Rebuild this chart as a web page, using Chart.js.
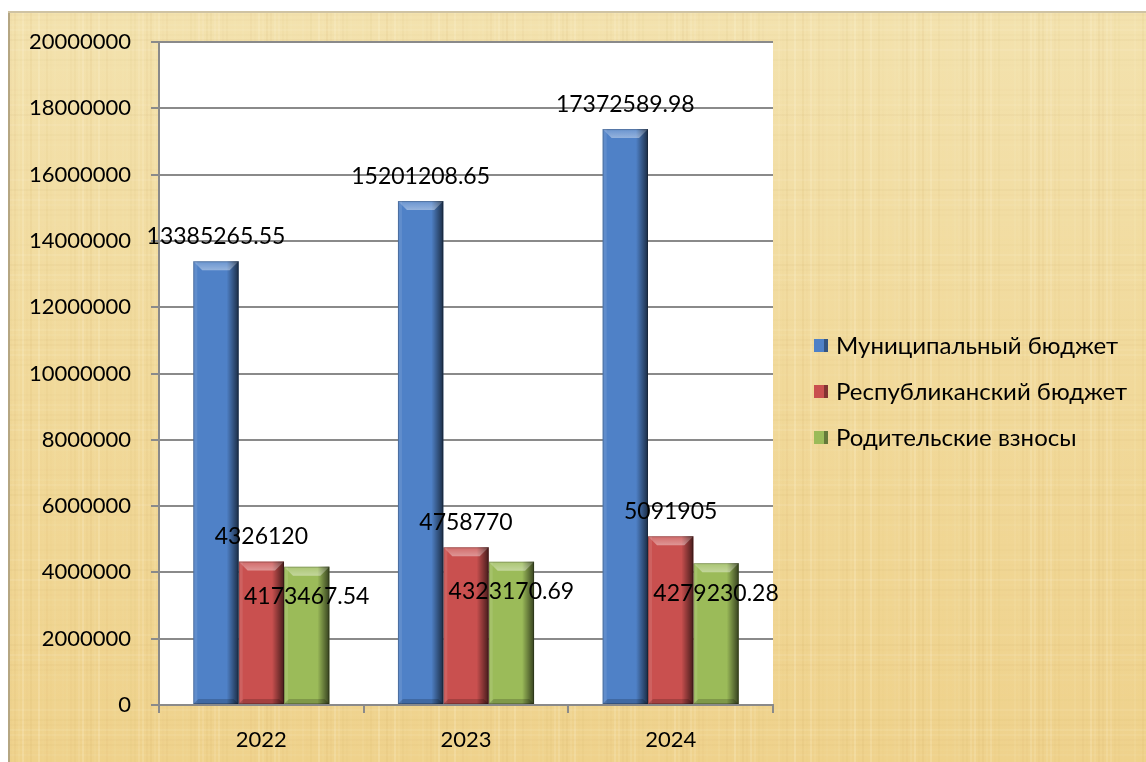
<!DOCTYPE html>
<html>
<head>
<meta charset="utf-8">
<script src="https://cdn.jsdelivr.net/npm/chart.js@4.4.1/dist/chart.umd.min.js"></script>
<style>
html, body { margin: 0; padding: 0; background: #fff; }
#wrap { width: 1146px; height: 762px; }
</style>
</head>
<body>
<div id="wrap"><canvas id="chart" width="1146" height="762"></canvas></div>
<script>
var years = ['2022', '2023', '2024']
var seriesNames = ['Муниципальный бюджет', 'Республиканский бюджет', 'Родительские взносы']
var municipal = [13385265.55, 15201208.65, 17372589.98]
var republican = [4326120, 4758770, 5091905]
var parents = [4173467.54, 4323170.69, 4279230.28]
var yTicks = [0, 2000000, 4000000, 6000000, 8000000, 10000000, 12000000, 14000000, 16000000, 18000000, 20000000]

var colors = ['#4f81c7', '#c9504f', '#9bbb59']
var FONT = 'Lato, Calibri, "Open Sans", sans-serif'

// papyrus-ish background + white plot area
var backdrop = {
    id: 'backdrop',
    beforeDraw: function(chart) {
        var ctx = chart.ctx, a = chart.chartArea
        ctx.save()
        ctx.fillStyle = '#fff'
        ctx.fillRect(0, 0, chart.width, chart.height)
        var g = ctx.createLinearGradient(0, 11, 0, chart.height)
        g.addColorStop(0, '#f3e2ae')
        g.addColorStop(0.5, '#f1d99a')
        g.addColorStop(1, '#efd28c')
        ctx.fillStyle = g
        ctx.fillRect(8, 11, chart.width - 8, chart.height - 11)
        // fibre streaks
        for (var x = 10; x < chart.width; x += 4) {
            var s = Math.sin(x * 0.37) * Math.sin(x * 0.053)
            ctx.fillStyle = s > 0 ? 'rgba(255,250,225,' + (s * 0.22) + ')' : 'rgba(200,160,80,' + (-s * 0.1) + ')'
            ctx.fillRect(x, 11, 2, chart.height - 11)
        }
        for (var y = 14; y < chart.height; y += 5) {
            var t = Math.sin(y * 0.29) * Math.sin(y * 0.041)
            ctx.fillStyle = t > 0 ? 'rgba(255,250,230,' + (t * 0.12) + ')' : 'rgba(190,150,80,' + (-t * 0.06) + ')'
            ctx.fillRect(8, y, chart.width - 8, 2)
        }
        ctx.fillStyle = '#b5a682'
        ctx.fillRect(8, 11, 2, chart.height - 11)
        ctx.fillStyle = '#cfc3a3'
        ctx.fillRect(8, 11, chart.width - 8, 2)
        ctx.fillStyle = '#fff'
        ctx.fillRect(a.left, a.top, a.right - a.left, a.bottom - a.top)
        ctx.restore()
    }
}

// bevel effect on bars
var bevel = {
    id: 'bevel',
    afterDatasetsDraw: function(chart) {
        var ctx = chart.ctx
        ctx.save()
        chart.data.datasets.forEach(function(ds, i) {
            chart.getDatasetMeta(i).data.forEach(function(bar) {
                var l = bar.x - bar.width / 2, r = bar.x + bar.width / 2
                var top = bar.y, bot = bar.base, b = 9
                var g = ctx.createLinearGradient(r - 12, 0, r, 0)
                g.addColorStop(0, 'rgba(0,0,0,0)')
                g.addColorStop(1, 'rgba(0,0,0,0.65)')
                ctx.fillStyle = g
                ctx.fillRect(r - 12, top, 12, bot - top)
                ctx.fillStyle = 'rgba(255,255,255,0.1)'
                ctx.fillRect(l, top, 4, bot - top)
                var tg = ctx.createLinearGradient(0, top, 0, top + b)
                tg.addColorStop(0, 'rgba(255,255,255,0.15)')
                tg.addColorStop(1, 'rgba(255,255,255,0.4)')
                ctx.fillStyle = tg
                ctx.beginPath()
                ctx.moveTo(l, top); ctx.lineTo(r, top)
                ctx.lineTo(r - b, top + b); ctx.lineTo(l + b, top + b)
                ctx.closePath(); ctx.fill()
                ctx.fillStyle = 'rgba(0,0,0,0.18)'
                ctx.beginPath()
                ctx.moveTo(l, bot); ctx.lineTo(r, bot)
                ctx.lineTo(r - 5, bot - 5); ctx.lineTo(l + 5, bot - 5)
                ctx.closePath(); ctx.fill()
                ctx.strokeStyle = 'rgba(0,0,0,0.22)'
                ctx.lineWidth = 1
                ctx.strokeRect(l + 0.5, top + 0.5, bar.width - 1, bot - top - 1)
            })
        })
        ctx.restore()
    }
}

// value labels (green ones sit below the bar top like in Excel)
var valueLabels = {
    id: 'valueLabels',
    afterDatasetsDraw: function(chart) {
        var ctx = chart.ctx
        ctx.save()
        ctx.font = '23px ' + FONT
        ctx.fillStyle = '#000'
        ctx.textAlign = 'center'
        ctx.textBaseline = 'middle'
        chart.data.datasets.forEach(function(ds, i) {
            chart.getDatasetMeta(i).data.forEach(function(bar, j) {
                var dy = i == 2 ? 30 : -25
                ctx.fillText(String(ds.data[j]), bar.x, bar.y + dy)
            })
        })
        ctx.restore()
    }
}

// legend on the right
var sideLegend = {
    id: 'sideLegend',
    afterDraw: function(chart) {
        var ctx = chart.ctx
        ctx.save()
        ctx.font = '24px ' + FONT
        ctx.textBaseline = 'middle'
        chart.data.datasets.forEach(function(ds, i) {
            var y = 346 + i * 46
            ctx.fillStyle = ds.backgroundColor
            ctx.fillRect(814, y - 7, 14, 13)
            ctx.fillStyle = 'rgba(0,0,0,0.35)'
            ctx.fillRect(824, y - 7, 4, 13)
            ctx.fillStyle = '#000'
            ctx.fillText(ds.label, 836, y)
        })
        ctx.restore()
    }
}

new Chart(document.getElementById('chart'), {
    type: 'bar',
    data: {
        labels: years,
        datasets: [
            {label: seriesNames[0], data: municipal, backgroundColor: colors[0]},
            {label: seriesNames[1], data: republican, backgroundColor: colors[1]},
            {label: seriesNames[2], data: parents, backgroundColor: colors[2]}
        ]
    },
    options: {
        responsive: false,
        animation: false,
        devicePixelRatio: 1,
        layout: {padding: {top: 42, right: 373, bottom: 0, left: 0}},
        datasets: {bar: {categoryPercentage: 0.665, barPercentage: 1}},
        plugins: {
            legend: {display: false},
            tooltip: {enabled: false}
        },
        scales: {
            x: {
                grid: {display: true, drawOnChartArea: false, drawTicks: true, tickLength: 8, color: '#8a8a8a', lineWidth: 2},
                border: {color: '#8a8a8a', width: 2},
                ticks: {color: '#000', font: {family: FONT, size: 22}, padding: 14},
                afterFit: function(s) { s.height = 57 }
            },
            y: {
                min: 0,
                max: 20000000,
                afterBuildTicks: function(s) { s.ticks = yTicks.map(function(v) { return {value: v} }) },
                grid: {color: '#8a8a8a', lineWidth: 2, tickLength: 8},
                border: {color: '#8a8a8a', width: 2},
                ticks: {color: '#000', font: {family: FONT, size: 22}, padding: 20, callback: function(v) { return String(v) }},
                afterFit: function(s) { s.width = 159 }
            }
        }
    },
    plugins: [backdrop, bevel, valueLabels, sideLegend]
})
</script>
</body>
</html>
